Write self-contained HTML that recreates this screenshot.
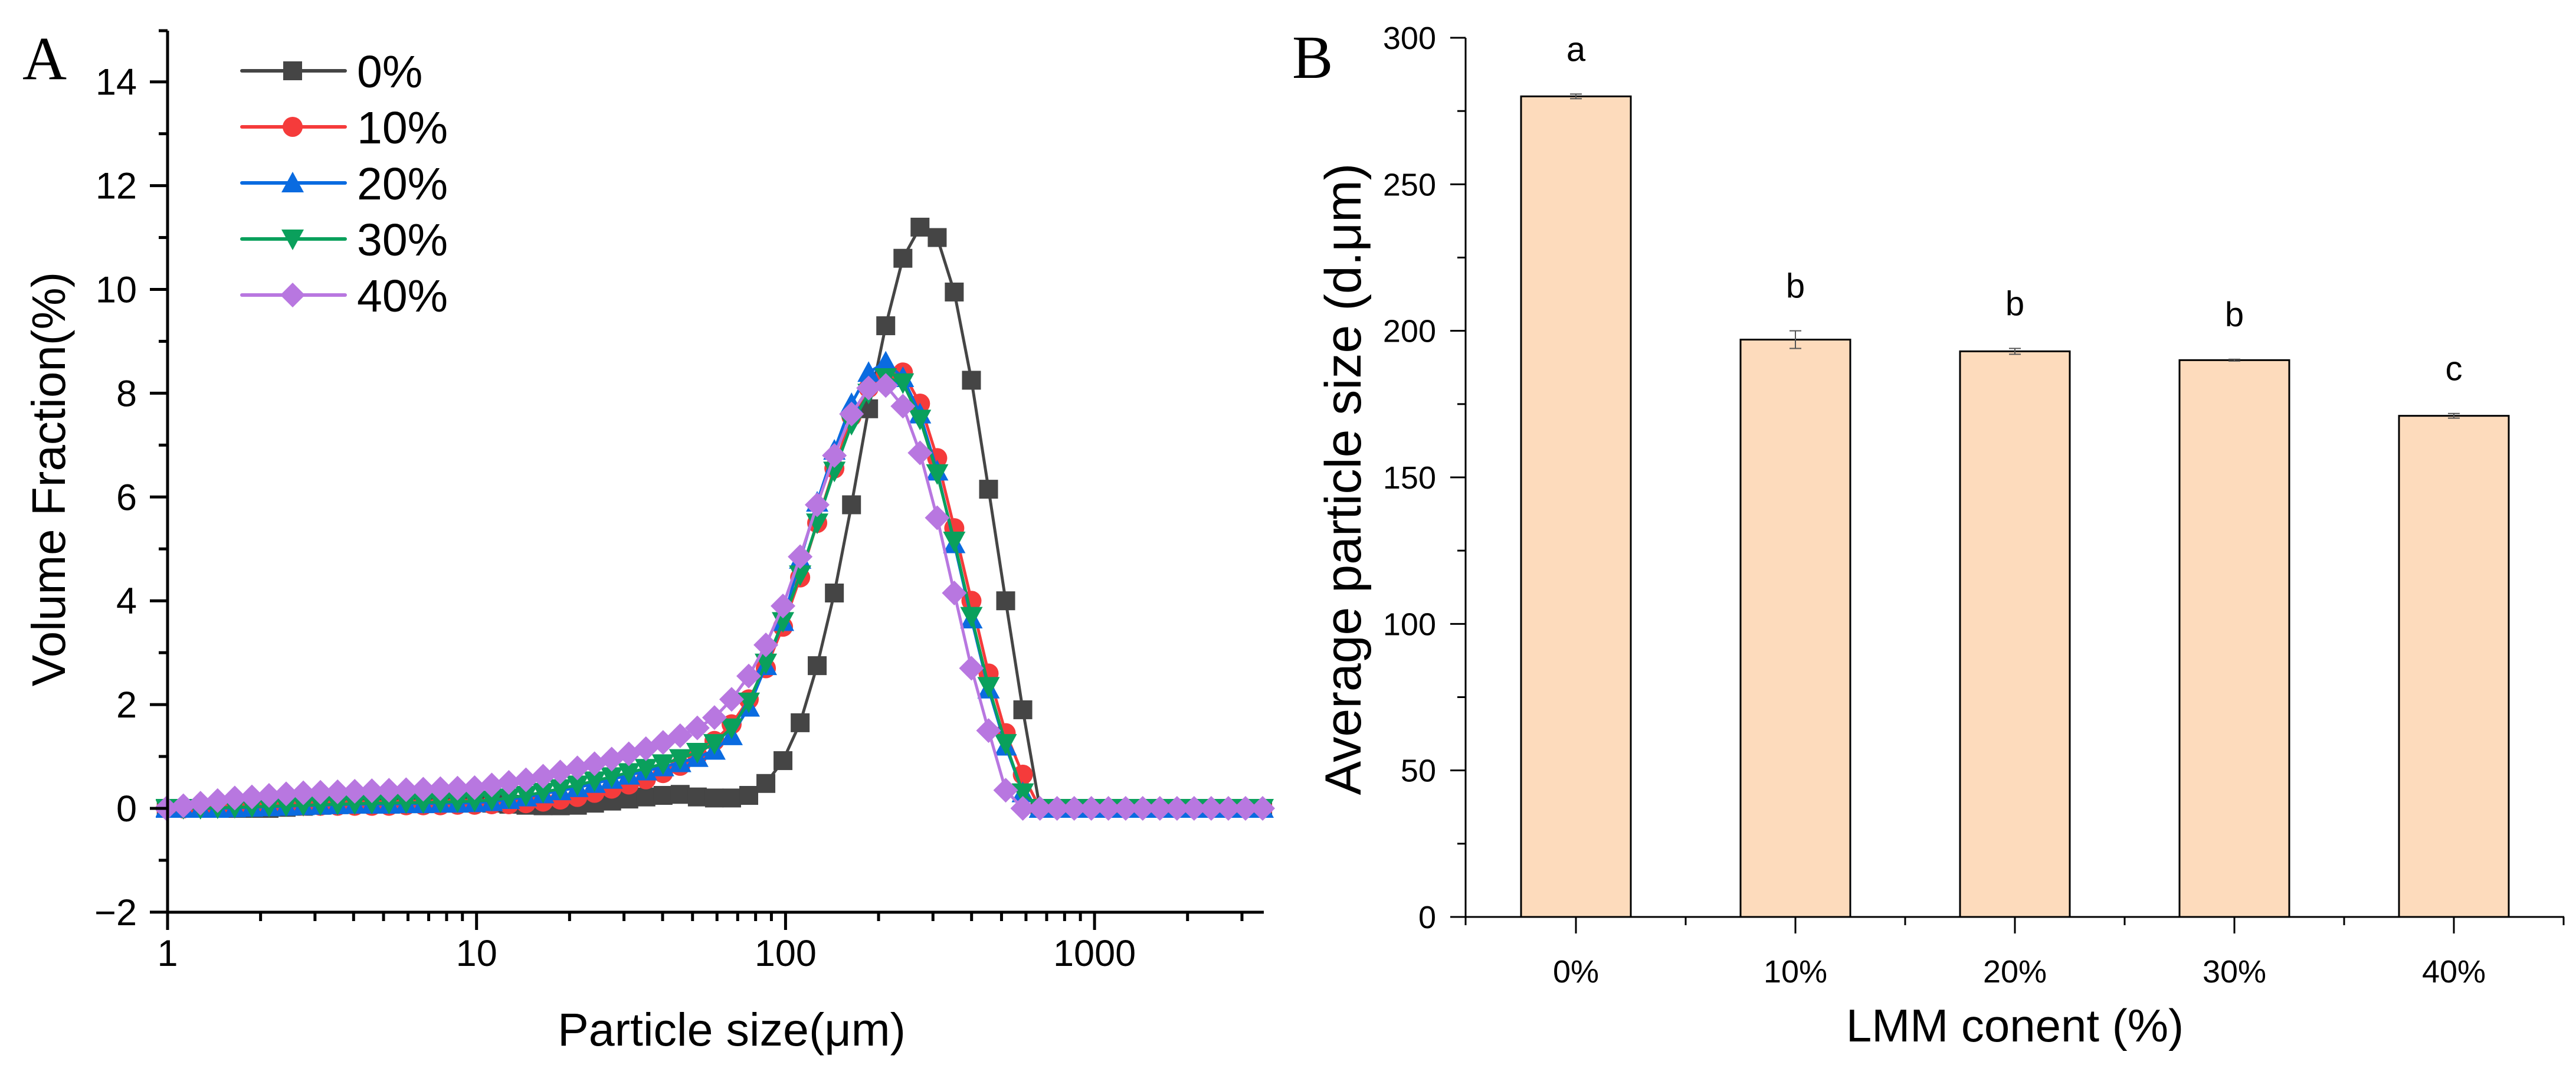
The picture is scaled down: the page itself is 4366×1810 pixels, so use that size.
<!DOCTYPE html>
<html><head><meta charset="utf-8">
<style>
html,body{margin:0;padding:0;background:#fff;}
svg{display:block;}
text{font-family:"Liberation Sans",Arial,sans-serif;fill:#000;}
text.serif{font-family:"Liberation Serif","Times New Roman",serif;}
</style></head>
<body>
<svg id="fig" width="4366" height="1810" viewBox="0 0 4366 1810" xmlns="http://www.w3.org/2000/svg">
<g id="panelA"></g>
<g id="panelB"></g>
</svg>
<script>
// ---------- Panel A data ----------
const sizes = [0.990,1.125,1.278,1.452,1.650,1.875,2.130,2.420,2.750,3.124,3.550,4.034,4.583,5.207,5.916,6.722,7.637,8.677,9.856,11.20,12.72,14.45,16.42,18.66,21.20,24.09,27.37,31.10,35.33,40.14,45.60,51.82,58.88,66.90,76.01,86.36,98.1,111.5,126.6,143.9,163.5,185.7,211.0,239.8,272.4,309.6,351.6,399.6,454.0,515.8,586.0,665.8,756.5,859.5,976.5,1109,1261,1432,1627,1849,2100,2386,2711,3080,3500];
const s0 = [0,0,0,0,0,0,0,0.02,0.04,0.06,0.08,0.1,0.12,0.13,0.14,0.14,0.14,0.13,0.12,0.1,0.08,0.06,0.05,0.05,0.06,0.1,0.14,0.18,0.22,0.25,0.27,0.22,0.2,0.2,0.25,0.48,0.92,1.65,2.75,4.15,5.85,7.7,9.3,10.6,11.2,11.0,9.95,8.25,6.15,4.0,1.9,0,0,0,0,0,0,0,0,0,0,0,0,0,0];
const s10 = [0,0,0.01,0.02,0.03,0.04,0.05,0.05,0.05,0.05,0.05,0.05,0.05,0.05,0.06,0.06,0.06,0.07,0.07,0.08,0.08,0.1,0.13,0.17,0.22,0.3,0.38,0.46,0.56,0.68,0.82,1.02,1.3,1.62,2.1,2.7,3.5,4.45,5.5,6.55,7.55,8.1,8.35,8.4,7.8,6.75,5.4,4.0,2.6,1.45,0.65,0,0,0,0,0,0,0,0,0,0,0,0,0,0];
const s20 = [0,0,0,0,0.01,0.02,0.03,0.04,0.05,0.06,0.07,0.08,0.08,0.08,0.09,0.09,0.1,0.1,0.11,0.13,0.17,0.22,0.28,0.34,0.4,0.48,0.56,0.64,0.72,0.8,0.88,0.98,1.12,1.4,1.95,2.75,3.6,4.8,5.9,6.9,7.8,8.4,8.6,8.3,7.6,6.5,5.1,3.65,2.3,1.2,0.3,0,0,0,0,0,0,0,0,0,0,0,0,0,0];
const s30 = [0,0,0,0.01,0.02,0.03,0.04,0.05,0.06,0.07,0.08,0.09,0.1,0.1,0.11,0.11,0.12,0.13,0.14,0.16,0.2,0.25,0.31,0.38,0.45,0.53,0.61,0.69,0.77,0.86,0.96,1.08,1.25,1.55,2.05,2.8,3.6,4.5,5.5,6.5,7.4,8.0,8.3,8.2,7.5,6.45,5.15,3.7,2.35,1.25,0.3,0,0,0,0,0,0,0,0,0,0,0,0,0,0];
const s40 = [0,0.05,0.1,0.15,0.2,0.22,0.25,0.28,0.3,0.31,0.32,0.33,0.34,0.35,0.36,0.37,0.38,0.39,0.4,0.45,0.5,0.55,0.62,0.7,0.78,0.86,0.95,1.05,1.15,1.27,1.4,1.55,1.75,2.1,2.55,3.15,3.9,4.85,5.85,6.8,7.6,8.1,8.15,7.75,6.85,5.6,4.15,2.7,1.5,0.35,0,0,0,0,0,0,0,0,0,0,0,0,0,0,0];
const seriesNames = ["0%","10%","20%","30%","40%"];
const yTicksA = [-2,0,2,4,6,8,10,12,14];
const xTicksA = [1,10,100,1000];
const xTickLabelsA = ["1","10","100","1000"];

// ---------- Panel B data ----------
const cats = ["0%","10%","20%","30%","40%"];
const avgSize = [280,197,193,190,171];
const avgErr = [0.8,3,1,0.3,0.8];
const sigLetters = ["a","b","b","b","c"];
const yTicksB = [0,50,100,150,200,250,300];

const NS="http://www.w3.org/2000/svg";
function mk(tag,attrs,parent){const e=document.createElementNS(NS,tag);for(const k in attrs)e.setAttribute(k,attrs[k]);parent.appendChild(e);return e;}

// ===== Panel A =====
const A=document.getElementById('panelA');
const aL=284,aR=2142,aT=52,aB=1546;
const decade=523.7;
function xA(v){return aL+Math.log10(v)*decade;}
function yA(v){return 1370-v*87.95;}

let t=mk('text',{x:38,y:134,'font-size':104,'class':'serif'},A);t.textContent='A';



const defs=mk('defs',{},A);
const cp=mk('clipPath',{id:'clipA'},defs);
mk('rect',{x:aL-20,y:aT,width:aR-aL+40,height:aB-aT},cp);

const colors=["#454545","#F53B3B","#0A6BE0","#0AA05C","#B877E0"];
const seriesData=[s0,s10,s20,s30,s40];
const gSeries=mk('g',{'clip-path':'url(#clipA)'},A);
function marker(type,cx,cy,col,parent){
  const r=16;let e;
  if(type===0){e=mk('rect',{x:cx-r,y:cy-r,width:2*r,height:2*r,fill:col},parent);}
  else if(type===1){e=mk('circle',{cx:cx,cy:cy,r:r+1,fill:col},parent);}
  else if(type===2){e=mk('polygon',{points:`${cx},${cy-r-3} ${cx+r+3},${cy+r} ${cx-r-3},${cy+r}`,fill:col},parent);}
  else if(type===3){e=mk('polygon',{points:`${cx},${cy+r+3} ${cx+r+3},${cy-r} ${cx-r-3},${cy-r}`,fill:col},parent);}
  else {e=mk('polygon',{points:`${cx},${cy-r-5} ${cx+r+5},${cy} ${cx},${cy+r+5} ${cx-r-5},${cy}`,fill:col},parent);}
  return e;
}
seriesData.forEach((ser,si)=>{
  const g=mk('g',{},gSeries);
  
  
  const pts=ser.map((v,i)=>xA(sizes[i]).toFixed(1)+','+yA(v).toFixed(1)).join(' ');
  const pl=mk('polyline',{points:pts,fill:'none',stroke:colors[si],'stroke-width':5,'stroke-linejoin':'round'},g);
  
  
  ser.forEach((v,i)=>{
    const m=marker(si,xA(sizes[i]),yA(v),colors[si],g);
    
    
  });
});

const axA=mk('g',{stroke:'#000','stroke-width':5,fill:'none'},A);


mk('line',{x1:aL,y1:aT,x2:aL,y2:aB+2},axA);
mk('line',{x1:aL-2,y1:aB,x2:aR,y2:aB},axA);
mk('line',{x1:aL-15,y1:aT,x2:aL,y2:aT},axA);
for(let v=-2;v<=14;v++){
  const major=(v%2===0);
  mk('line',{x1:aL-(major?30:15),y1:yA(v),x2:aL,y2:yA(v)},axA);
}
yTicksA.forEach(v=>{
  const tx=mk('text',{x:232,y:yA(v)+22,'font-size':63,'text-anchor':'end'},A);
  tx.textContent=(v<0?'\u2212'+(-v):String(v));
  
  
});
for(let d=1;d<=1000;d*=10){
  for(let k=1;k<=9;k++){
    const v=d*k; if(v>3500) break;
    mk('line',{x1:xA(v),y1:aB,x2:xA(v),y2:aB+(k===1?30:15)},axA);
  }
}
xTicksA.forEach((v,i)=>{
  const tx=mk('text',{x:xA(v),y:1637,'font-size':63,'text-anchor':'middle'},A);
  tx.textContent=xTickLabelsA[i];
  
  
});
t=mk('text',{x:1240,y:1772,'font-size':79,'text-anchor':'middle'},A);t.textContent='Particle size(\u03bcm)';


t=mk('text',{x:0,y:0,'font-size':80,'text-anchor':'middle',transform:'translate(110,812) rotate(-90)'},A);t.textContent='Volume Fraction(%)';



const lg=mk('g',{},A);


const legY=[120,215,310,405,500];
seriesNames.forEach((n,i)=>{
  const g=mk('g',{},lg);
  
  
  mk('line',{x1:410,y1:legY[i],x2:585,y2:legY[i],stroke:colors[i],'stroke-width':6,'stroke-linecap':'round'},g);
  marker(i,496,legY[i],colors[i],g);
  const tx=mk('text',{x:605,y:legY[i]+28,'font-size':77},g);tx.textContent=n;
});

// ===== Panel B =====
const B=document.getElementById('panelB');
const bL=2484,bR=4346,bT=64,bB=1554;
function yB(v){return bB-v*(bB-bT)/300;}
const step=372;
function xB(i){return 2671+i*step;}
t=mk('text',{x:2190,y:132,'font-size':104,'class':'serif'},B);t.textContent='B';



avgSize.forEach((v,i)=>{
  const g=mk('g',{},B);
  
  
  mk('rect',{x:xB(i)-93,y:yB(v),width:186,height:bB-yB(v),fill:'#FDDBBC',stroke:'#000','stroke-width':3},g);
  const e=avgErr[i];
  const eg=mk('g',{stroke:'#555','stroke-width':2},g);
  
  
  mk('line',{x1:xB(i),y1:yB(v+e),x2:xB(i),y2:yB(v-e)},eg);
  mk('line',{x1:xB(i)-10,y1:yB(v+e),x2:xB(i)+10,y2:yB(v+e)},eg);
  mk('line',{x1:xB(i)-10,y1:yB(v-e),x2:xB(i)+10,y2:yB(v-e)},eg);
  const lt=mk('text',{x:xB(i),y:yB(v+e)-56,'font-size':58,'text-anchor':'middle'},B);
  lt.textContent=sigLetters[i];
  
  
  const cl=mk('text',{x:xB(i),y:1665,'font-size':54,'text-anchor':'middle'},B);
  cl.textContent=cats[i];
  
  
});
const axB=mk('g',{stroke:'#000','stroke-width':3,fill:'none'},B);


mk('line',{x1:bL,y1:bT,x2:bL,y2:bB+14},axB);
mk('line',{x1:bL,y1:bB,x2:bR,y2:bB},axB);
for(let v=0;v<=300;v+=25){
  const major=(v%50===0);
  mk('line',{x1:bL-(major?26:14),y1:yB(v),x2:bL,y2:yB(v)},axB);
}
yTicksB.forEach(v=>{
  const tx=mk('text',{x:2434,y:yB(v)+19,'font-size':54,'text-anchor':'end'},B);
  tx.textContent=String(v);
  
  
});
for(let i=0;i<5;i++){
  mk('line',{x1:xB(i),y1:bB,x2:xB(i),y2:bB+28},axB);
  mk('line',{x1:xB(i)+step/2,y1:bB,x2:xB(i)+step/2,y2:bB+14},axB);
}
t=mk('text',{x:3415,y:1765,'font-size':78,'text-anchor':'middle'},B);t.textContent='LMM conent (%)';


t=mk('text',{x:0,y:0,'font-size':86,'text-anchor':'middle',transform:'translate(2306,812) rotate(-90)'},B);t.textContent='Average particle size (d.\u03bcm)';


</script>
</body></html>
